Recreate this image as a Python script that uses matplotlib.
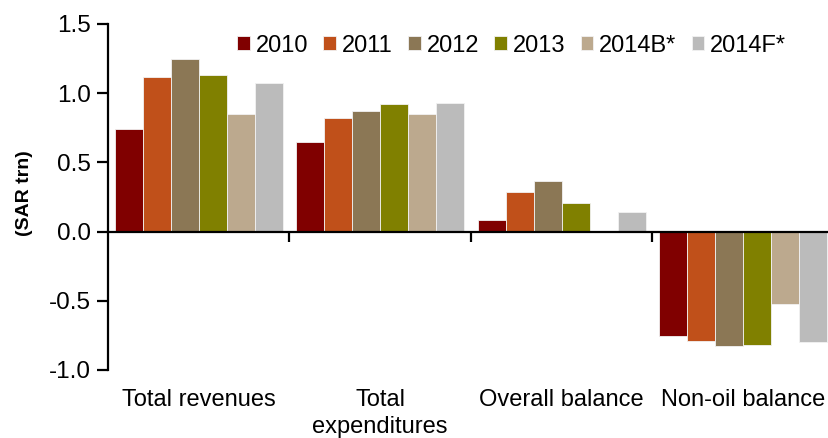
import matplotlib
matplotlib.use("Agg")
import matplotlib.pyplot as plt
import numpy as np

plt.rcParams['font.family'] = ['Liberation Sans', 'DejaVu Sans']

categories = ["Total revenues", "Total\nexpenditures", "Overall balance", "Non-oil balance"]
series = ["2010", "2011", "2012", "2013", "2014B*", "2014F*"]
values = {
    "2010":   [0.74, 0.65, 0.085, -0.755],
    "2011":   [1.117, 0.822, 0.285, -0.79],
    "2012":   [1.245, 0.870, 0.368, -0.823],
    "2013":   [1.129, 0.921, 0.205, -0.82],
    "2014B*": [0.852, 0.852, 0.0, -0.522],
    "2014F*": [1.072, 0.930, 0.14, -0.80],
}
colors = ["#800000", "#C0501A", "#8B7755", "#808000", "#BCA98E", "#BBBBBB"]
yticks = [-1.0, -0.5, 0.0, 0.5, 1.0, 1.5]

W, H = 829, 438
fig = plt.figure(figsize=(W / 100, H / 100), dpi=100)
ax = fig.add_axes([108 / W, 68 / H, 726 / W, 346 / H])

x = np.arange(len(categories))
n = len(series)
bw = 0.154
for i, (s, c) in enumerate(zip(series, colors)):
    offs = (i - (n - 1) / 2) * bw
    ax.bar(x + offs, values[s], width=bw, color=c, edgecolor="#f2f2f2",
           linewidth=0.6, label=s, zorder=2)

ax.set_xlim(-0.5, len(categories) - 0.5)
ax.set_ylim(-1.0, 1.5)
ax.set_yticks(yticks)
ax.set_yticklabels([f"{v:.1f}" for v in yticks], fontsize=17.5)
ax.tick_params(axis="y", direction="out", length=8, width=1.6, pad=4)

# category axis runs along zero, with separators between groups
for side in ("top", "right"):
    ax.spines[side].set_visible(False)
ax.spines["left"].set_linewidth(1.6)
ax.spines["bottom"].set_position(("data", 0))
ax.spines["bottom"].set_linewidth(1.6)
ax.spines["bottom"].set_zorder(3)
ax.set_xticks(x[:-1] + 0.5)
ax.set_xticklabels([])
ax.tick_params(axis="x", direction="out", length=7, width=1.6)

for xi, lab in zip(x, categories):
    ax.text(xi, -0.055, lab, transform=ax.get_xaxis_transform(), ha="center",
            va="top", fontsize=17, linespacing=1.3)

ax.set_ylabel("(SAR trn)", fontsize=14, fontweight="bold", labelpad=10)
ax.yaxis.set_label_coords(-0.103, 0.51)

leg = ax.legend(loc="center left", bbox_to_anchor=(0.178, 0.937), ncol=6,
                frameon=False, fontsize=17, handlelength=0.54, handleheight=0.54,
                handletextpad=0.24, columnspacing=0.65, borderaxespad=0,
                borderpad=0)

fig.savefig("out.png", dpi=100)
